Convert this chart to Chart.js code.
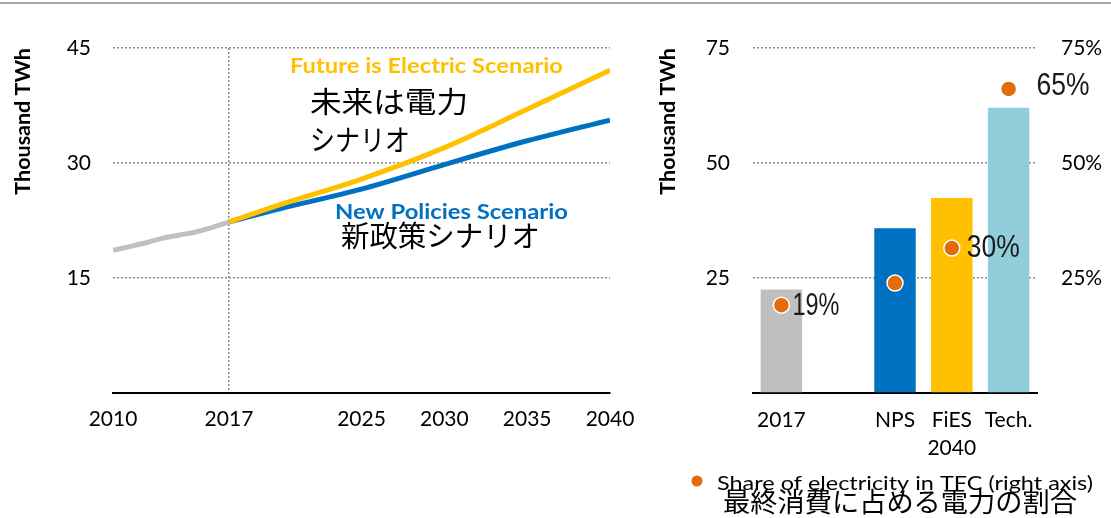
<!DOCTYPE html>
<html>
<head>
<meta charset="utf-8">
<script src="https://cdn.jsdelivr.net/npm/chart.js@4.4.0/dist/chart.umd.min.js"></script>
<style>
body { margin: 0; background: #fff; }
#wrap { position: relative; width: 1111px; height: 518px; overflow: hidden; }
#topline { position: absolute; left: 0; top: 2px; width: 1111px; height: 2px; background: #a5a5a5; }
#left { position: absolute; left: 0; top: 0; }
#right { position: absolute; left: 640px; top: 0; }
</style>
</head>
<body>
<div id="wrap">
  <div id="topline"></div>
  <canvas id="left" width="640" height="518"></canvas>
  <canvas id="right" width="471" height="518"></canvas>
</div>
<script>
// left: electricity demand, thousand TWh
const histYears = [2010, 2011, 2012, 2013, 2014, 2015, 2016, 2017];
const histValues = [18.6, 19.1, 19.6, 20.2, 20.6, 21.0, 21.6, 22.3];
const projYears = [2017, 2020, 2025, 2030, 2035, 2040];
const fiesValues = [22.3, 24.5, 27.9, 32.0, 37.0, 42.1];
const npsValues = [22.3, 24.0, 26.6, 29.8, 32.9, 35.6];
const yearTicks = [2010, 2017, 2025, 2030, 2035, 2040];

// right: 2017 vs 2040 scenarios
const barLabels = ['2017', '', 'NPS', ['FiES', '2040'], 'Tech.'];
const barValues = [22.5, null, 35.8, 42.4, 62.0];
const barColors = ['#bfbfbf', '#ffffff', '#0070c0', '#ffc000', '#92cddc'];
const shareValues = [19.1, null, 23.9, 31.5, 66.1];
const shareLabels = ['19%', '', '', '30%', '65%'];

const SANS = 'Lato, "Open Sans", sans-serif';
const JP = '"Noto Sans CJK JP", sans-serif';
const NARROW = '"Liberation Sans Narrow", "Liberation Sans", sans-serif';
Chart.defaults.font.family = SANS;
Chart.defaults.color = '#000';

const GRID = '#8c8c8c';

function drawText(ctx, text, x, y, font, color, width) {
    ctx.save();
    ctx.font = font;
    ctx.fillStyle = color;
    ctx.textBaseline = 'middle';
    ctx.textAlign = 'left';
    let sx = 1;
    if (width) sx = width / ctx.measureText(text).width;
    ctx.translate(x, y);
    ctx.scale(sx, 1);
    ctx.fillText(text, 0, 0);
    ctx.restore();
}

function toPoints(xs, ys) {
    return xs.map((x, i) => ({ x: x, y: ys[i] }));
}

const leftNotes = {
    id: 'leftNotes',
    afterDraw(chart) {
        const ctx = chart.ctx;
        drawText(ctx, 'Future is Electric Scenario', 290, 67, 'bold 20px ' + SANS, '#ffc000', 273);
        drawText(ctx, '未来は電力', 310, 102, '29px ' + JP, '#000', 158);
        drawText(ctx, 'シナリオ', 310, 140, '29px ' + JP, '#000', 100);
        drawText(ctx, 'New Policies Scenario', 335, 213, 'bold 20px ' + SANS, '#0070c0', 233);
        drawText(ctx, '新政策シナリオ', 341, 236, '29px ' + JP, '#000', 199);
    }
};

new Chart(document.getElementById('left'), {
    type: 'line',
    data: {
        datasets: [
            {
                data: toPoints(histYears, histValues),
                borderColor: '#c0c0c0',
                borderWidth: 5,
                pointRadius: 0,
                tension: 0.3
            },
            {
                data: toPoints(projYears, fiesValues),
                borderColor: '#ffc000',
                borderWidth: 5,
                pointRadius: 0,
                cubicInterpolationMode: 'monotone'
            },
            {
                data: toPoints(projYears, npsValues),
                borderColor: '#0070c0',
                borderWidth: 5,
                pointRadius: 0,
                cubicInterpolationMode: 'monotone'
            }
        ]
    },
    options: {
        responsive: false,
        animation: false,
        devicePixelRatio: 1,
        layout: { padding: { top: 48, right: 30, bottom: 0, left: 0 } },
        plugins: { legend: { display: false }, tooltip: { enabled: false } },
        scales: {
            x: {
                type: 'linear',
                min: 2010,
                max: 2040,
                afterBuildTicks: s => { s.ticks = yearTicks.map(v => ({ value: v })); },
                afterFit: s => { s.height = 125; s.paddingLeft = 0; s.paddingRight = 0; },
                ticks: { font: { size: 21 }, padding: 14, maxRotation: 0, autoSkip: false, callback: v => String(v) },
                grid: {
                    drawTicks: false,
                    lineWidth: 1.5,
                    color: c => (c.tick && c.tick.value === 2017) ? GRID : 'rgba(0,0,0,0)'
                },
                border: { display: true, color: '#000', width: 2, dash: [2, 2] }
            },
            y: {
                min: 0,
                max: 45,
                afterFit: s => { s.width = 113; },
                ticks: { stepSize: 15, font: { size: 21 }, padding: 22, callback: v => v === 0 ? '' : v },
                grid: { drawTicks: false, color: GRID, lineWidth: 1.5 },
                border: { display: false, dash: [2, 2] },
                title: {
                    display: true,
                    text: 'Thousand TWh',
                    align: 'end',
                    font: { size: 21.5, weight: 'bold' },
                    padding: { top: 10, bottom: 0 }
                }
            }
        }
    },
    plugins: [leftNotes]
});

const rightNotes = {
    id: 'rightNotes',
    afterDatasetsDraw(chart) {
        const ctx = chart.ctx;
        const meta = chart.getDatasetMeta(0);
        const offX = [11, 0, 0, 15, 28];
        const offY = [1, 0, 0, 0, -3];
        const widths = [47, 0, 0, 53, 53];
        shareLabels.forEach((t, i) => {
            if (!t) return;
            const p = meta.data[i];
            drawText(ctx, t, p.x + offX[i], p.y + offY[i], '32px ' + NARROW, '#1a1a1a', widths[i]);
        });
        // legend
        ctx.save();
        ctx.fillStyle = '#e36c0a';
        ctx.beginPath();
        ctx.arc(57, 481, 5.5, 0, Math.PI * 2);
        ctx.fill();
        ctx.restore();
        drawText(ctx, 'Share of electricity in TFC (right axis)', 77, 484, '20px ' + SANS, '#000', 376);
        drawText(ctx, '最終消費に占める電力の割合', 83, 502, '27px ' + JP, '#000', 354);
    }
};

new Chart(document.getElementById('right'), {
    type: 'bar',
    data: {
        labels: barLabels,
        datasets: [
            {
                type: 'line',
                data: shareValues,
                yAxisID: 'y1',
                showLine: false,
                pointRadius: 8,
                pointBackgroundColor: '#e36c0a',
                pointBorderColor: '#ffffff',
                pointBorderWidth: 1.5,
                order: 0
            },
            {
                type: 'bar',
                data: barValues,
                yAxisID: 'y',
                backgroundColor: barColors,
                categoryPercentage: 1,
                barPercentage: 0.73,
                order: 1
            }
        ]
    },
    options: {
        responsive: false,
        animation: false,
        devicePixelRatio: 1,
        layout: { padding: { top: 48, right: 0, bottom: 0, left: 0 } },
        plugins: { legend: { display: false }, tooltip: { enabled: false } },
        scales: {
            x: {
                afterFit: s => { s.height = 125; },
                ticks: { font: { size: 21, lineHeight: 1.35 }, padding: 5, maxRotation: 0, autoSkip: false },
                grid: { display: false },
                border: { display: true, color: '#000', width: 2 }
            },
            y: {
                min: 0,
                max: 75,
                afterFit: s => { s.width = 113; },
                ticks: { stepSize: 25, font: { size: 21 }, padding: 23, callback: v => v === 0 ? '' : v },
                grid: { drawTicks: false, color: GRID, lineWidth: 1.5 },
                border: { display: false, dash: [2, 2] },
                title: {
                    display: true,
                    text: 'Thousand TWh',
                    align: 'end',
                    font: { size: 21.5, weight: 'bold' },
                    padding: { top: 15, bottom: 0 }
                }
            },
            y1: {
                position: 'right',
                min: 0,
                max: 75,
                afterFit: s => { s.width = 74; },
                ticks: { stepSize: 25, font: { size: 21 }, padding: 24, callback: v => v === 0 ? '' : v + '%' },
                grid: { drawOnChartArea: false, drawTicks: false },
                border: { display: false }
            }
        }
    },
    plugins: [rightNotes]
});
</script>
</body>
</html>
